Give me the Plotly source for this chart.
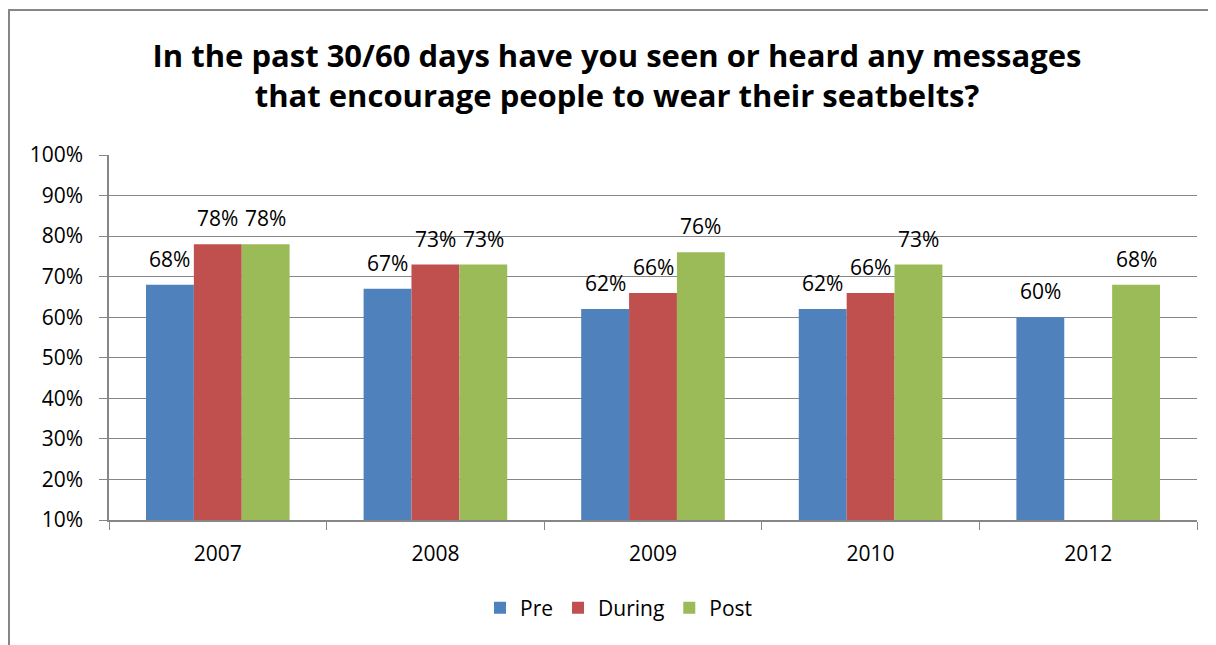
import plotly.graph_objects as go

years = ["2007", "2008", "2009", "2010", "2012"]
pre = [68, 67, 62, 62, 60]
during = [78, 73, 66, 66, None]
post = [78, 73, 76, 73, 68]
series = [("Pre", pre, "#4F81BD"), ("During", during, "#C0504D"), ("Post", post, "#9BBB59")]

FONT = "Open Sans"
fig = go.Figure()
for name, vals, color in series:
    fig.add_trace(go.Bar(
        x=years, y=vals, name=name, marker=dict(color=color, line=dict(width=0)),
    ))

# page body has an 8px margin, figure is offset by it
W, H = 1208, 637
L, R, T, B = 101, 19, 147, 125
pw, ph = W - L - R, H - T - B
bar_px = pw / len(years) * (1 - 0.34) / 3

annotations = []
for i, (name, vals, color) in enumerate(series):
    for j, v in enumerate(vals):
        if v is None:
            continue
        annotations.append(dict(x=j, y=v, xref="x", yref="y", text=f"{v}%", showarrow=False,
                                xshift=(i - 1) * bar_px, yshift=26, yanchor="middle",
                                font=dict(family=FONT, size=21, color="black")))

fig.update_layout(
    width=W, height=H,
    margin=dict(l=L, r=R, t=T, b=B),
    paper_bgcolor="white", plot_bgcolor="white",
    barmode="group", bargap=0.34, bargroupgap=0,
    title=dict(text="<b>In the past 30/60 days have you seen or heard any messages<br>that encourage people to wear their seatbelts?</b>",
               x=(609) / W, xanchor="center", y=1 - 59 / H, yanchor="middle",
               font=dict(family=FONT, size=31, color="black")),
    font=dict(family=FONT, size=20, color="black"),
    legend=dict(orientation="h", x=(611 - L) / pw, xanchor="center", y=-(600 - (H - B)) / ph, yanchor="middle",
                font=dict(family=FONT, size=21), itemwidth=30, traceorder="normal"),
    xaxis=dict(type="category", tickson="boundaries", ticks="outside", ticklen=8,
               tickcolor="#868686", showline=True, linecolor="#868686", linewidth=1.5,
               tickfont=dict(family=FONT, size=21), showgrid=False, ticklabelstandoff=14,
               range=[-0.5, len(years) - 0.5], autorange=False),
    yaxis=dict(range=[10, 100], dtick=10, ticksuffix="%", ticks="outside", ticklen=8,
               tickcolor="#868686", showline=True, linecolor="#868686", linewidth=1.5,
               showgrid=True, gridcolor="#868686", gridwidth=1,
               tickfont=dict(family=FONT, size=21), zeroline=False, ticklabelstandoff=12),
    annotations=annotations,
    shapes=[dict(type="rect", xref="paper", yref="paper",
                 x0=(1 - L) / pw, x1=(W + 20 - L) / pw,
                 y0=-(H + 20 - (H - B)) / ph, y1=((H - B) - 2) / ph,
                 line=dict(color="#868686", width=2), fillcolor="rgba(0,0,0,0)", layer="below")],
)
fig.write_html("out.html")
